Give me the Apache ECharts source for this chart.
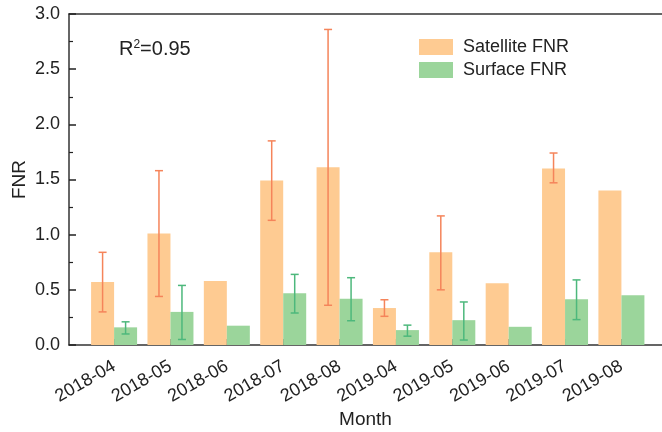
<!DOCTYPE html>
<html>
<head>
<meta charset="utf-8">
<script src="https://cdn.jsdelivr.net/npm/echarts@6/dist/echarts.min.js"></script>
<style>html,body{margin:0;padding:0;background:#fff;}#c{width:662px;height:432px;}</style>
</head>
<body>
<div id="c"></div>
<script>
const categories = ['2018-04','2018-05','2018-06','2018-07','2018-08','2019-04','2019-05','2019-06','2019-07','2019-08'];
const satellite = [0.57, 1.01, 0.58, 1.49, 1.61, 0.335, 0.84, 0.56, 1.60, 1.40];
const satLow    = [0.30, 0.44, null, 1.13, 0.36, 0.26, 0.50, null, 1.47, null];
const satHigh   = [0.84, 1.58, null, 1.85, 2.86, 0.41, 1.17, null, 1.74, null];
const surface   = [0.16, 0.30, 0.175, 0.47, 0.42, 0.135, 0.225, 0.165, 0.415, 0.45];
const surLow    = [0.10, 0.05, null, 0.29, 0.22, 0.08, 0.045, null, 0.23, null];
const surHigh   = [0.21, 0.54, null, 0.64, 0.61, 0.18, 0.39, null, 0.59, null];
const yTicks = ['0.0','0.5','1.0','1.5','2.0','2.5','3.0'];

const FONT = '"Liberation Sans", Arial, sans-serif';
const BAR_W = 23;
const positions = categories.map((c,i)=>i+1);

function barData(vals){ return vals.map((v,i)=>[positions[i], v]); }
function errData(lo, hi){
  const out = [];
  lo.forEach((l,i)=>{ if(l!==null && hi[i]!==null) out.push([positions[i], l, hi[i]]); });
  return out;
}
function errRender(offset, color){
  return function(params, api){
    const x = api.value(0);
    const pLo = api.coord([x, api.value(1)]);
    const pHi = api.coord([x, api.value(2)]);
    const cx = pLo[0] + offset;
    const cap = 4;
    const st = {stroke: color, lineWidth: 1.5};
    return {type:'group', children:[
      {type:'line', shape:{x1:cx, y1:pLo[1], x2:cx, y2:pHi[1]}, style:st},
      {type:'line', shape:{x1:cx-cap, y1:pLo[1], x2:cx+cap, y2:pLo[1]}, style:st},
      {type:'line', shape:{x1:cx-cap, y1:pHi[1], x2:cx+cap, y2:pHi[1]}, style:st}
    ]};
  };
}

const chart = echarts.init(document.getElementById('c'), null, {renderer:'canvas'});
chart.setOption({
  animation:false,
  backgroundColor:'#fff',
  textStyle:{fontFamily:FONT},
  grid:{left:69, right:0, top:14, bottom:87, containLabel:false, outerBoundsMode:'none'},
  title:{
    left:119, top:39, padding:0,
    text:'{a|R}{s|2}{a|=0.95}',
    textStyle:{fontWeight:'normal', rich:{
      a:{fontSize:20, color:'#222', fontFamily:FONT, fontWeight:'normal'},
      s:{fontSize:12, color:'#222', fontFamily:FONT, fontWeight:'normal', verticalAlign:'top', padding:[0,0,9,0]}
    }}
  },
  legend:{
    left:419, top:38, padding:0, orient:'vertical', itemWidth:34, itemHeight:16, itemGap:5,
    icon:'rect',
    data:['Satellite FNR','Surface FNR'],
    textStyle:{fontSize:18, color:'#222', fontFamily:FONT, padding:[0,0,0,5]}
  },
  xAxis:[{
    type:'value', min:0.2, max:10.72,
    name:'Month', nameLocation:'middle', nameGap:65, nameMoveOverlap:false,
    nameTextStyle:{fontSize:19, color:'#222', fontFamily:FONT},
    axisLine:{show:true, lineStyle:{color:'#333', width:1.5}},
    axisTick:{show:true, inside:true, length:6, customValues:positions, lineStyle:{color:'#222', width:1.5}},
    splitLine:{show:false},
    axisLabel:{
      rotate:30, fontSize:18, color:'#222', fontFamily:FONT, margin:20,
      customValues:positions,
      formatter:function(v){
        const i = Math.round(v);
        return (i>=1 && i<=categories.length) ? categories[i-1] : '';
      }
    }
  },{
    type:'value', position:'top', min:0.2, max:10.72,
    axisLine:{show:true, lineStyle:{color:'#333', width:1.5}},
    axisTick:{show:false}, axisLabel:{show:false}, splitLine:{show:false}
  }],
  yAxis:{
    type:'value', min:0, max:3, interval:0.5,
    name:'FNR', nameLocation:'middle', nameGap:40, nameMoveOverlap:false,
    nameTextStyle:{fontSize:19, color:'#222', fontFamily:FONT},
    axisLine:{show:true, lineStyle:{color:'#333', width:1.5}},
    axisTick:{show:true, inside:true, length:7, lineStyle:{color:'#222', width:1.5}},
    minorTick:{show:true, splitNumber:2, length:4, lineStyle:{color:'#222', width:1.2}},
    splitLine:{show:false},
    axisLabel:{fontSize:18, color:'#222', fontFamily:FONT, margin:9,
      formatter:function(v){ return yTicks[Math.round(v*2)] || v.toFixed(1); }}
  },
  series:[
    {name:'Satellite FNR', type:'bar', xAxisIndex:0, barWidth:BAR_W, barGap:'0%',
     itemStyle:{color:'#FECB92'}, data:barData(satellite)},
    {name:'Surface FNR', type:'bar', xAxisIndex:0, barWidth:BAR_W, barGap:'0%',
     itemStyle:{color:'#9BD59B'}, data:barData(surface)},
    {name:'satErr', type:'custom', xAxisIndex:0, z:5,
     renderItem:errRender(-BAR_W/2, '#F5845A'), data:errData(satLow, satHigh)},
    {name:'surErr', type:'custom', xAxisIndex:0, z:5,
     renderItem:errRender(BAR_W/2, '#4DB87C'), data:errData(surLow, surHigh)}
  ]
});
</script>
</body>
</html>
